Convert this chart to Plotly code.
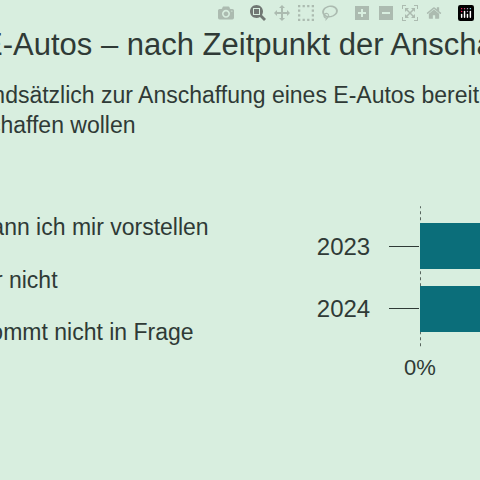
import plotly.graph_objects as go

years = ["2023", "2024"]
antworten = ["Kann ich mir vorstellen", "Eher nicht", "Kommt nicht in Frage"]
werte = {
    "Kann ich mir vorstellen": [34, 33],
    "Eher nicht": [27, 25],
    "Kommt nicht in Frage": [39, 42],
}
farben = ["#0b6e7a", "#7fbfc4", "#c9d9d3"]

BG = "#d8eedf"
INK = "#2f3a36"
FONT = "Liberation Sans"
L, W = 420, 60  # plot area left edge and width in px


def px(x):
    return (x - L) / W


fig = go.Figure()
for name, c in zip(antworten, farben):
    fig.add_trace(go.Bar(y=years, x=werte[name], name=name, orientation="h",
                         marker=dict(color=c, line=dict(width=0))))

fig.add_shape(type="line", xref="x", yref="paper", x0=0, x1=0, y0=-0.05, y1=1.07,
              line=dict(color=INK, width=1.5, dash="dot"), layer="below")

texts = [
    ("E-Autos – nach Zeitpunkt der Anschaffung", -20, 45, 31, "left"),
    ("Grundsätzlich zur Anschaffung eines E-Autos bereit", -48, 95, 23, "left"),
    ("Befragte, die in den nächsten Jahren ein Auto anschaffen wollen", 138, 125, 23, "right"),
    ("Kann ich mir vorstellen", 211, 227, 23, "right"),
    ("Eher nicht", 60, 280, 23, "right"),
    ("Kommt nicht in Frage", 196, 332, 23, "right"),
]
for t, x, y, s, anc in texts:
    fig.add_annotation(text=t, x=px(x), y=1 - (y - 215) / 125, xref="paper", yref="paper",
                       xanchor=anc, yanchor="middle", showarrow=False,
                       font=dict(family=FONT, size=s, color=INK))

fig.update_layout(
    width=480, height=480, barmode="stack", bargap=0.26, showlegend=False,
    paper_bgcolor=BG, plot_bgcolor=BG,
    margin=dict(l=L, r=0, t=215, b=140),
    font=dict(family=FONT, color=INK),
)
fig.update_xaxes(range=[0, 12], tickvals=[0], ticktext=["0%"], showgrid=False,
                 zeroline=False, showline=False, tickfont=dict(size=22, color=INK),
                 ticklabelstandoff=12)
fig.update_yaxes(autorange="reversed", showgrid=False, zeroline=False, showline=False,
                 ticks="outside", ticklen=30, tickwidth=1, tickcolor=INK,
                 ticklabelstandoff=14, tickfont=dict(size=24, color=INK))
fig.write_html("out.html", post_script="document.body.style.margin='0';")
